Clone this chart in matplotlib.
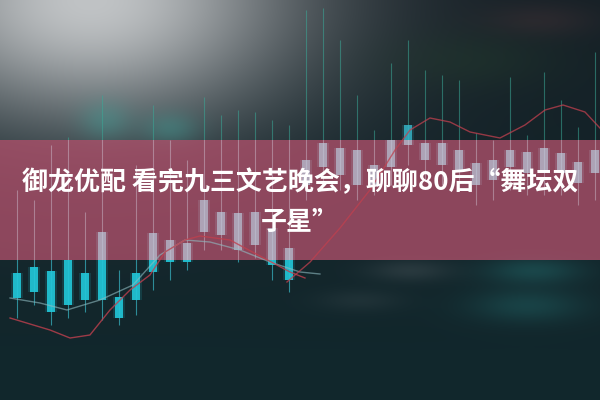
import numpy as np
import matplotlib
matplotlib.use("Agg")
import matplotlib.pyplot as plt
from matplotlib.patches import Rectangle

plt.rcParams["font.family"] = ["Noto Sans CJK SC", "DejaVu Sans"]

# candle data: index along x, price on y
idx = np.arange(1, 36)
highs = [210, 200, 255, 263, 188, 305, 130, 235, 295, 260, 240, 303, 285, 290, 288, 280, 275,
         390, 392, 360, 305, 270, 337, 360, 330, 325, 320, 267, 260, 323, 265, 328, 300, 273, 348]
opens = [127, 133, 129, 140, 127, 168, 103, 127, 167, 160, 157, 200, 188, 187, 188, 172, 152,
         240, 257, 252, 250, 235, 260, 275, 257, 257, 250, 237, 240, 250, 248, 252, 247, 238, 250]
closes = [102, 108, 88, 95, 100, 100, 82, 100, 128, 138, 138, 168, 165, 150, 155, 135, 120,
          215, 233, 225, 215, 215, 233, 255, 240, 235, 230, 215, 220, 233, 227, 230, 227, 217, 227]
lows = [82, 95, 75, 82, 88, 80, 75, 85, 110, 120, 130, 150, 150, 138, 142, 120, 108,
        200, 215, 210, 200, 205, 215, 235, 220, 215, 210, 195, 200, 210, 205, 205, 205, 195, 200]

# moving-average style curves
red1_x = [0.59, 2.94, 4.12, 5.29, 6.47, 7.65, 8.82, 9.71, 10.88, 11.76, 13.53, 15.29, 17.06, 17.94]
red1_y = [82, 70, 62, 65, 90, 110, 125, 148, 160, 164, 160, 144, 128, 122]
pale_x = [0.59, 2.35, 3.94, 5.88, 7.82, 9.41, 10.88, 12.35, 14.12, 15.88, 17.65, 18.82]
pale_y = [102, 97, 90, 100, 115, 145, 160, 158, 150, 138, 128, 126]
red2_x = [16.88, 18.24, 20.0, 21.76, 23.24, 24.12, 25.29, 26.47, 27.65, 29.41, 30.88, 32.06, 33.12, 34.41, 35.29]
red2_y = [118, 138, 172, 210, 250, 270, 282, 278, 268, 262, 275, 290, 295, 288, 272]

title_line1 = "御龙优配 看完九三文艺晚会，聊聊80后“舞坛双"
title_line2 = "子星”"

XMAX = 600 / 17
band_lo, band_hi = 140, 260

fig = plt.figure(figsize=(6, 4), dpi=100)
ax = fig.add_axes([0, 0, 1, 1])
ax.set_xlim(0, XMAX)
ax.set_ylim(0, 400)
ax.axis("off")

# background: dark with a soft light glow in the upper left
H, W = 400, 600
yy, xx = np.mgrid[0:H, 0:W].astype(float)
base_top = np.array([22, 32, 38])
base_bot = np.array([17, 40, 45])
t = (yy / H)[..., None]
img = base_top * (1 - t) + base_bot * t
glow = np.exp(-((xx - 90) ** 2 / (2 * 150 ** 2) + (yy - 0) ** 2 / (2 * 90 ** 2)))
img = img + glow[..., None] * (np.array([192, 195, 197]) - img)
for cx, cy, sx, sy, col, a in [(105, 120, 18, 14, (60, 170, 160), 0.35),
                               (170, 128, 20, 12, (60, 170, 160), 0.35),
                               (533, 270, 35, 10, (40, 130, 130), 0.35),
                               (527, 305, 40, 12, (40, 130, 130), 0.3),
                               (410, 270, 30, 8, (90, 100, 105), 0.3),
                               (360, 300, 30, 8, (60, 75, 80), 0.3),
                               (540, 20, 40, 12, (70, 50, 55), 0.4),
                               (470, 60, 60, 20, (35, 60, 45), 0.4)]:
    g = a * np.exp(-((xx - cx) ** 2 / (2 * sx ** 2) + (yy - cy) ** 2 / (2 * sy ** 2)))
    img = img + g[..., None] * (np.array(col) - img)
ax.imshow(np.clip(img, 0, 255).astype(np.uint8), extent=(0, XMAX, 0, 400),
          aspect="auto", zorder=0)

# pink translucent band
ax.add_patch(Rectangle((0, band_lo), XMAX, band_hi - band_lo, facecolor=(0.67, 0.31, 0.41),
                       alpha=0.8, edgecolor="none", zorder=1))

regions = [
    (band_hi, 400, "#3aa897", 0.55, "#36b8cc", 0.8),
    (band_lo, band_hi, "#d2c6d6", 0.45, "#bccbdd", 0.65),
    (0, band_lo, "#3cc4d4", 0.65, "#22c7d9", 0.9),
]
body_lo = np.minimum(opens, closes)
body_h = np.abs(np.array(opens) - np.array(closes))
for lo, hi, wick_c, wick_a, body_c, body_a in regions:
    clip = Rectangle((0, lo), XMAX, hi - lo, transform=ax.transData)
    w = ax.vlines(idx, lows, highs, colors=wick_c, alpha=wick_a, lw=0.8, zorder=2)
    w.set_clip_path(clip)
    glow_bars = ax.bar(idx, body_h, bottom=body_lo, width=0.72, color=body_c,
                       alpha=0.15, zorder=2)
    for b in glow_bars:
        b.set_clip_path(clip)
    bars = ax.bar(idx, body_h, bottom=body_lo, width=0.42, color=body_c,
                  alpha=body_a, zorder=2)
    for b in bars:
        b.set_clip_path(clip)

ax.plot(pale_x, pale_y, color="#8fbcc2", lw=1.0, alpha=0.6, zorder=3)
ax.plot(red1_x, red1_y, color="#c0404e", lw=1.0, alpha=0.8, zorder=3)
ax.plot(red2_x, red2_y, color="#c0404e", lw=1.0, alpha=0.75, zorder=3)

fig.text(0.5, 1 - 183 / 400, title_line1, color="white", fontsize=18.7,
         fontweight="bold", ha="center", va="center", zorder=5)
fig.text(0.5, 1 - 222 / 400, title_line2, color="white", fontsize=18.7,
         fontweight="bold", ha="center", va="center", zorder=5)

fig.savefig("out.png", dpi=100)
